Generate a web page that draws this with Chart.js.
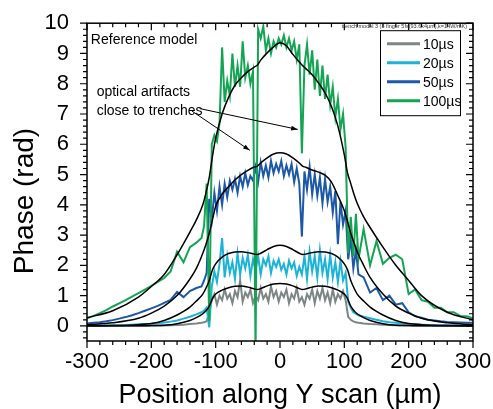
<!DOCTYPE html>
<html>
<head>
<meta charset="utf-8">
<style>
  html, body { margin: 0; padding: 0; background: #fff; }
</style>
<script src="https://cdn.jsdelivr.net/npm/chart.js@4/dist/chart.umd.min.js"></script>
</head>
<body>
<canvas id="chart" width="493" height="409"></canvas>
<script>
// measured scan positions (um)
const pos = [
  -300, -290, -280, -270, -260, -250, -240, -230, -220, -210, -200, -190, -180, -170, -160, -150, -140, -130,
  -122, -118, -114, -110, -106, -102, -98, -94, -90, -86,
  -82, -78, -74, -70, -66, -62, -58, -54, -50, -46,
  -42, -38, -34, -30, -26, -22, -18, -14, -10, -6,
  -2, 2, 6, 10, 14, 18, 22, 26, 30, 34,
  38, 42, 46, 50, 54, 58, 62, 66, 70, 74,
  78, 82, 86, 90, 94, 98, 102, 106, 110, 114,
  118, 122,
  130, 140, 150, 160, 170, 180, 190, 200, 210, 220, 230, 240, 250, 260, 270, 280, 290, 300
];

const phase10 = [
  0, 0, 0, 0, 0, 0, 0, 0, 0, 0, 0, 0.01, 0.01, 0.02, 0.03, 0.04, 0.06, 0.08,
  0.1, 0.12, 0.15, 0.45, 0.85, 1.05, 0.7, 1.0, 0.85, 1.2,
  0.9, 1.05, 0.75, 1.15, 0.95, 1.5, 0.8, 1.1, 0.95, 1.2,
  0.75, 1.0, 0.85, 1.25, 0.9, 1.05, 0.8, 1.3, 0.95, 1.15,
  0.8, 1.1, 0.95, 1.2, 0.75, 1.05, 0.9, 1.25, 0.8, 0.95,
  0.7, 1.05, 0.9, 1.2, 0.75, 1.15, 0.9, 1.25, 0.85, 1.1,
  0.75, 1.2, 0.8, 1.05, 0.9, 1.15, 0.85, 0.3, 0.2, 0.15,
  0.12, 0.1,
  0.08, 0.06, 0.05, 0.04, 0.03, 0.02, 0.02, 0.01, 0.01, 0, 0, 0, 0, 0, 0, 0, 0, 0
];

const phase20 = [
  0, 0, 0.01, 0.01, 0.02, 0.02, 0.03, 0.04, 0.05, 0.06, 0.07, 0.09, 0.11, 0.14, 0.18, 0.24, 0.3, 0.38,
  0.45, 0.5, 0.6, -0.05, 1.3, 1.8, 1.45, 2.05, 2.9, 1.6,
  2.3, 1.75, 2.1, 1.55, 2.4, 1.7, 2.25, 1.9, 2.35, 1.65,
  2.2, 1.85, 2.3, 1.7, 2.2, 2.0, 2.3, 1.75, 2.15, 1.95,
  2.2, 1.85, 2.05, 1.7, 2.15, 1.9, 2.1, 1.65, 1.95, 1.7,
  2.3, 1.55, 2.45, 1.8, 2.3, 1.6, 2.5, 1.75, 2.2, 1.55,
  2.35, 1.6, 2.1, 1.45, 2.15, 1.5, 1.75, 0.8, 0.6, 0.45,
  0.4, 0.35,
  0.3, 0.25, 0.2, 0.15, 0.12, 0.1, 0.08, 0.06, 0.05, 0.04, 0.03, 0.03, 0.02, 0.02, 0.01, 0.01, 0, 0
];

const phase50 = [
  0.08, 0.1, 0.12, 0.15, 0.19, 0.24, 0.29, 0.35, 0.42, 0.5, 0.58, 0.66, 0.76, 0.86, 1.12, 0.95, 1.15, 1.25,
  1.3, 1.5, 1.75, 4.2, 3.5, 4.4, 3.8, 4.6, 4.0, 4.7,
  4.25, 4.8, 4.5, 4.85, 4.4, 4.95, 4.6, 5.05, 4.65, 4.95,
  4.8, 5.25, 4.75, 5.4, 4.95, 5.3, 4.9, 5.45, 5.05, 5.35,
  5.1, 5.45, 4.95, 5.3, 5.0, 5.35, 4.75, 5.2, 4.7, 2.95,
  5.1, 4.5, 5.25, 4.35, 5.0, 4.3, 4.9, 4.05, 4.85, 4.1,
  4.6, 3.75, 4.45, 2.7, 4.1, 3.35, 3.8, 2.2, 2.9, 1.9,
  2.5, 1.7,
  1.6, 1.1, 1.25, 0.85, 1.0, 0.7, 0.75, 0.45, 0.32, 0.27, 0.2, 0.18, 0.15, 0.13, 0.12, 0.11, 0.1, 0.1
];

const phase100 = [
  0.25, 0.33, 0.42, 0.52, 0.64, 0.74, 0.85, 0.97, 1.08, 1.2, 1.32, 1.45, 1.58, 1.8, 2.45, 2.1, 2.6, 2.75,
  2.9, 3.3, 4.7, 0.15, 6.0, 6.3, 6.1, 6.7, 9.2, 7.4,
  8.1, 7.6, 9.0, 7.9, 8.6, 7.9, 9.4, 8.2, 8.6, 8.0,
  8.4, -0.8, 9.8, 9.5, 9.9, 9.1, 9.5, 9.0, 9.4, 9.2,
  9.5, 9.3, 9.6, 9.2, 9.5, 9.1, 9.4, 8.8, 9.3, 5.7,
  8.6, 9.3, 8.3, 9.1, 7.8, 8.8, 7.6, 8.6, 7.5, 8.3,
  7.3, 7.9, 6.9, 7.5, 6.5, 7.0, 5.9, 2.4, 3.6, 2.3,
  3.7, 2.2,
  3.2, 2.0, 2.8, 2.05, 2.25, 2.35, 2.2, 1.05, 1.2, 0.85, 0.8, 0.6, 0.6, 0.45, 0.45, 0.33, 0.32, 0.25
];

// reference model (black curves)
const modelPos = [
  -300, -260, -220, -200, -180, -160, -140, -130, -120, -115,
  -110, -105, -100, -90, -80, -70, -60, -50, -40, -35,
  -30, -20, -10, 0, 10, 20, 30, 35, 40, 50,
  60, 70, 80, 90, 100, 105, 110, 115, 120, 130,
  140, 160, 180, 200, 220, 260, 300
];
const model10 = [
  0, 0, 0, 0.01, 0.02, 0.07, 0.18, 0.27, 0.4, 0.5,
  0.65, 0.9, 1.05, 1.18, 1.26, 1.31, 1.32, 1.28, 1.22, 1.2,
  1.23, 1.32, 1.38, 1.4, 1.38, 1.32, 1.23, 1.2, 1.22, 1.28,
  1.32, 1.31, 1.26, 1.18, 1.05, 0.9, 0.65, 0.5, 0.4, 0.27,
  0.18, 0.07, 0.02, 0.01, 0, 0, 0
];
const model20 = [
  0, 0.01, 0.04, 0.08, 0.18, 0.36, 0.62, 0.82, 1.05, 1.25,
  1.5, 1.85, 2.05, 2.27, 2.39, 2.44, 2.45, 2.42, 2.37, 2.36,
  2.4, 2.52, 2.62, 2.66, 2.62, 2.52, 2.4, 2.36, 2.37, 2.42,
  2.45, 2.44, 2.39, 2.27, 2.05, 1.85, 1.5, 1.25, 1.05, 0.82,
  0.62, 0.36, 0.18, 0.08, 0.04, 0.01, 0
];
const model50 = [
  0.04, 0.1, 0.25, 0.42, 0.65, 1.0, 1.55, 1.9, 2.4, 2.7,
  3.05, 3.5, 3.95, 4.35, 4.6, 4.82, 5.0, 5.14, 5.25, 5.28,
  5.38, 5.55, 5.68, 5.72, 5.68, 5.55, 5.38, 5.28, 5.24, 5.15,
  5.08, 4.98, 4.75, 4.3, 3.8, 3.45, 3.05, 2.75, 2.45, 2.0,
  1.6, 1.05, 0.65, 0.42, 0.25, 0.1, 0.04
];
const model100 = [
  0.27, 0.5, 0.95, 1.3, 1.7, 2.35, 3.1, 3.5, 4.0, 4.4,
  4.9, 5.6, 6.2, 7.0, 7.55, 7.95, 8.2, 8.4, 8.55, 8.62,
  8.78, 9.02, 9.22, 9.35, 9.25, 8.97, 8.72, 8.6, 8.5, 8.3,
  8.02, 7.7, 7.25, 6.6, 5.65, 5.05, 4.7, 4.35, 4.05, 3.6,
  3.25, 2.6, 2.0, 1.5, 1.0, 0.45, 0.2
];

const seriesNames = ["10\u00b5s", "20\u00b5s", "50\u00b5s", "100\u00b5s"];
const seriesColors = ["#7d8585", "#1cb3d8", "#1c58a8", "#13a552"];
const xTicks = [-300, -200, -100, 0, 100, 200, 300];
const yTicks = [0, 1, 2, 3, 4, 5, 6, 7, 8, 9, 10];

// text notes and arrows, in data coordinates
const notes = [
  { text: "Reference model", x: -294, y: 9.31 },
  { text: "optical artifacts", x: -285, y: 7.61 },
  { text: "close to trenches", x: -285, y: 6.98 }
];
const arrows = [
  { from: [-137, 7.1], to: [-47, 5.8] },
  { from: [-125, 7.18], to: [27.5, 6.49] }
];

const FONT = '"Liberation Sans", Arial, Helvetica, sans-serif';

const zip = (xs, ys) => xs.map((x, i) => ({ x: x, y: ys[i] }));

const measured = [phase10, phase20, phase50, phase100];
const models = [model10, model20, model50, model100];

const datasets = [];
models.forEach((m) => {
  datasets.push({
    data: zip(modelPos, m),
    borderColor: "#000",
    borderWidth: 1.5,
    pointRadius: 0,
    cubicInterpolationMode: "monotone",
    order: 0
  });
});
measured.forEach((s, i) => {
  datasets.push({
    label: seriesNames[i],
    data: zip(pos, s),
    borderColor: seriesColors[i],
    borderWidth: 2,
    pointRadius: 0,
    tension: 0,
    order: 4 - i
  });
});

const decor = {
  id: "decor",
  afterDraw(chart) {
    const { ctx, chartArea: a, scales } = chart;
    const xs = scales.x, ys = scales.y;
    ctx.save();

    // frame
    ctx.strokeStyle = "#000";
    ctx.lineWidth = 1.5;
    ctx.strokeRect(a.left, a.top, a.right - a.left, a.bottom - a.top);

    // ticks: bottom/left outward, top/right inward
    ctx.lineWidth = 1.2;
    ctx.beginPath();
    for (let v = -300; v <= 300; v += 20) {
      const px = xs.getPixelForValue(v);
      const len = v % 100 === 0 ? 7 : 4;
      ctx.moveTo(px, a.bottom); ctx.lineTo(px, a.bottom + len);
      ctx.moveTo(px, a.top); ctx.lineTo(px, a.top + len);
    }
    for (let k = -2; k <= 50; k++) {
      const py = ys.getPixelForValue(k / 5);
      const len = k % 5 === 0 ? 7 : 4;
      ctx.moveTo(a.left, py); ctx.lineTo(a.left - len, py);
      ctx.moveTo(a.right, py); ctx.lineTo(a.right - len, py);
    }
    ctx.stroke();

    // y title
    ctx.fillStyle = "#000";
    ctx.font = "28px " + FONT;
    ctx.save();
    ctx.translate(33, 201);
    ctx.rotate(-Math.PI / 2);
    ctx.textAlign = "center";
    ctx.textBaseline = "alphabetic";
    ctx.fillText("Phase (rad)", 0, 0);
    ctx.restore();

    // notes
    ctx.font = "14px " + FONT;
    ctx.textAlign = "left";
    ctx.textBaseline = "alphabetic";
    notes.forEach((n) => {
      ctx.fillText(n.text, xs.getPixelForValue(n.x), ys.getPixelForValue(n.y));
    });

    // arrows
    ctx.lineWidth = 1;
    arrows.forEach((ar) => {
      const x1 = xs.getPixelForValue(ar.from[0]), y1 = ys.getPixelForValue(ar.from[1]);
      const x2 = xs.getPixelForValue(ar.to[0]), y2 = ys.getPixelForValue(ar.to[1]);
      const ang = Math.atan2(y2 - y1, x2 - x1);
      ctx.beginPath();
      ctx.moveTo(x1, y1); ctx.lineTo(x2, y2);
      ctx.stroke();
      ctx.beginPath();
      ctx.moveTo(x2, y2);
      ctx.lineTo(x2 - 7 * Math.cos(ang - 0.35), y2 - 7 * Math.sin(ang - 0.35));
      ctx.lineTo(x2 - 7 * Math.cos(ang + 0.35), y2 - 7 * Math.sin(ang + 0.35));
      ctx.closePath();
      ctx.fill();
    });

    // tiny caption top right
    ctx.font = "5.5px " + FONT;
    ctx.fillStyle = "#333";
    ctx.textAlign = "right";
    ctx.fillText("trench model 3 (3 finger 5fs(93.6x4\u00b5m),k=14W/mK)", a.right - 6, a.top + 5);

    // legend
    const lx = a.right - 93, ly = a.top + 7, lw = 80, lh = 85;
    ctx.fillStyle = "#fff";
    ctx.fillRect(lx, ly, lw, lh);
    ctx.strokeStyle = "#000";
    ctx.lineWidth = 1;
    ctx.strokeRect(lx + 0.5, ly + 0.5, lw, lh);
    ctx.font = "14px " + FONT;
    ctx.textAlign = "left";
    ctx.textBaseline = "middle";
    seriesNames.forEach((name, i) => {
      const cy = ly + 13.5 + i * 19;
      ctx.strokeStyle = seriesColors[i];
      ctx.lineWidth = 3;
      ctx.beginPath();
      ctx.moveTo(lx + 7, cy); ctx.lineTo(lx + 40, cy);
      ctx.stroke();
      ctx.fillStyle = "#000";
      ctx.fillText(name, lx + 43, cy + 1);
    });

    ctx.restore();
  }
};

const chart = new Chart(document.getElementById("chart"), {
  type: "line",
  data: { datasets: datasets },
  options: {
    responsive: false,
    animation: false,
    layout: { padding: { top: 21, right: 20, left: 0, bottom: 0 } },
    plugins: { legend: { display: false }, tooltip: { enabled: false } },
    scales: {
      x: {
        type: "linear",
        min: -300,
        max: 300,
        afterBuildTicks: (s) => { s.ticks = xTicks.map((v) => ({ value: v })); },
        afterFit: (s) => { s.height = 68; },
        grid: { display: false },
        border: { display: false },
        ticks: {
          color: "#000",
          font: { family: FONT, size: 22 },
          padding: 0,
          maxRotation: 0,
          autoSkip: false,
          callback: (v) => String(v)
        },
        title: {
          display: true,
          text: "Position along Y scan (\u00b5m)",
          color: "#000",
          font: { family: FONT, size: 27 },
          padding: { top: 0, bottom: -3 }
        }
      },
      y: {
        type: "linear",
        min: -0.5,
        max: 10,
        afterBuildTicks: (s) => { s.ticks = yTicks.map((v) => ({ value: v })); },
        afterFit: (s) => { s.width = 87; },
        grid: { display: false },
        border: { display: false },
        ticks: {
          color: "#000",
          font: { family: FONT, size: 22 },
          padding: 10,
          autoSkip: false,
          callback: (v) => String(v)
        }
      }
    }
  },
  plugins: [decor]
});
</script>
</body>
</html>
